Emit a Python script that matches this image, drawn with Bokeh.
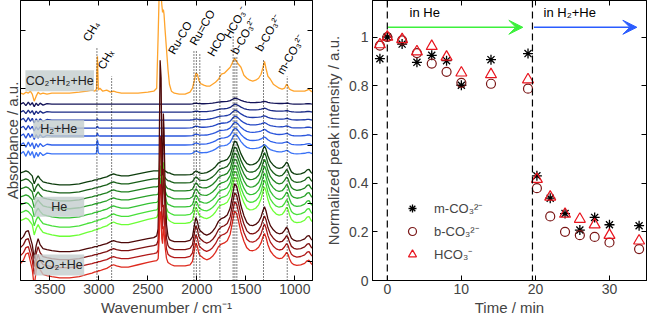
import math
from bokeh.plotting import figure
from bokeh.layouts import row
from bokeh.models import (Range1d, FixedTicker, LinearAxis, Legend, LegendItem,
                          Arrow, VeeHead, Span, Label, CustomJSTickFormatter)
from bokeh.core.properties import value
from bokeh.embed import file_html
from bokeh.resources import INLINE

FONT = "Liberation Sans"

# ------------------------------------------------------------------
# Right panel data: normalized peak intensities vs time
# ------------------------------------------------------------------
time_min = [-1, 0, 2, 4, 6, 8, 10, 14, 19, 20.2, 22, 24, 26, 28, 30, 34]
m_co3 = [0.911, 1.0, 0.971, 0.896, 0.925, 0.903, 0.802, 0.907, 0.932,
         0.430, 0.338, 0.275, 0.207, 0.259, 0.229, 0.225]
b_co3 = [0.965, 1.0, 0.986, 0.934, 0.891, 0.857, 0.812, 0.808, 0.788,
         0.379, 0.263, 0.200, 0.186, 0.179, 0.156, 0.129]
hco3 = [0.969, 1.0, 0.990, 0.940, 0.962, 0.918, 0.853, 0.846, 0.825,
        0.416, 0.343, 0.273, 0.252, 0.229, 0.186, 0.163]
legend_labels = ["m-CO\u2083\u00b2\u207b", "b-CO\u2083\u00b2\u207b", "HCO\u2083\u207b"]
switch_times = [0, 19.6]
phase_text = ["in He", "in H\u2082+He"]
phase_text_x = [3.0, 21.1]
phase_text_y = [1.10, 1.10]
phase_arrows = [(0.1, 18.3, "#3cf03c"), (19.8, 33.7, "#2a5cff")]
arrow_y = 1.04
time_ticks = [0, 10, 20, 30]
norm_ticks = [0, 0.2, 0.4, 0.6, 0.8, 1.0]

# ------------------------------------------------------------------
# Left panel data: DRIFT spectra (offset, a.u. in plot units)
# ------------------------------------------------------------------
wavenumber = [3800, 3770, 3745, 3720, 3700, 3680, 3660, 3640, 3620, 3600, 3570, 3530,
              3480, 3400, 3300, 3200, 3120, 3070, 3040, 3025, 3015, 3005, 2990, 2960,
              2920, 2880, 2850, 2820, 2770, 2700, 2600, 2500, 2440, 2410, 2395, 2385,
              2375, 2365, 2358, 2350, 2342, 2335, 2325, 2310, 2295, 2280, 2260, 2230,
              2180, 2120, 2070, 2045, 2025, 2010, 1995, 1980, 1965, 1950, 1930, 1900,
              1870, 1840, 1810, 1780, 1750, 1720, 1690, 1660, 1635, 1615, 1595, 1575,
              1550, 1520, 1490, 1460, 1430, 1400, 1370, 1345, 1325, 1310, 1295, 1275,
              1250, 1220, 1190, 1160, 1130, 1105, 1085, 1070, 1055, 1035, 1010, 980,
              940, 900, 875, 855, 835, 815, 800]

# CO2+H2+He spectrum (height above its own baseline)
orange_spectrum = {
    3800: 1, 3770: 0, 3745: 2, 3720: 1, 3700: 3, 3680: 0, 3660: -7, 3640: -2, 3620: 2,
    3600: 0, 3570: 1, 3530: 0, 3480: 1, 3400: 1, 3300: 1, 3200: 2, 3120: 3, 3070: 4,
    3040: 3, 3025: 5, 3015: 38, 3005: 4, 2990: 6, 2960: 3, 2920: 4, 2880: 2, 2850: 3,
    2820: 2, 2770: 1, 2700: 1, 2600: 1, 2500: 2, 2440: 3, 2410: 6, 2395: 60, 2385: 100,
    2375: 100, 2365: 100, 2358: 90, 2350: 82, 2342: 85, 2335: 80, 2325: 65, 2310: 45,
    2295: 25, 2280: 10, 2260: 3, 2230: 1, 2180: 0, 2120: 0, 2070: 2, 2045: 6, 2025: 14,
    2010: 21, 1995: 20, 1980: 14, 1965: 11, 1950: 10, 1930: 9, 1900: 8, 1870: 8,
    1840: 10, 1810: 12, 1780: 15, 1750: 20, 1720: 21, 1690: 24, 1660: 27, 1635: 32,
    1615: 36, 1595: 33, 1575: 30, 1550: 27, 1520: 19, 1490: 16, 1460: 14, 1430: 13,
    1400: 14, 1370: 16, 1345: 20, 1325: 27, 1310: 33, 1295: 26, 1275: 18, 1250: 15,
    1220: 10, 1190: 8, 1160: 6, 1130: 5, 1105: 6, 1085: 10, 1070: 8, 1055: 5, 1035: 4,
    1010: 3, 980: 3, 940: 3, 900: 3, 875: 4, 855: 5, 835: 3, 815: 2, 800: 2}

# hydroxyl / baseline shape of the He and CO2+He spectra
hydroxyl_shape = {
    3800: 0, 3770: 1, 3745: 2, 3720: 1, 3700: -1, 3680: -3, 3660: -11, 3640: -6,
    3620: -3, 3600: -6, 3570: -9, 3530: -10, 3480: -11, 3400: -12, 3300: -12,
    3200: -11, 3120: -9, 3070: -8, 3040: -7, 3025: -7, 3015: -7, 3005: -6, 2990: -6,
    2960: -5, 2920: -4, 2880: -2, 2850: -1, 2820: -2, 2770: -3, 2700: -3, 2600: -1,
    2500: 1, 2440: 2, 2410: 2, 2395: 2, 2385: 2, 2375: 2, 2365: 2, 2358: 2, 2350: 2,
    2342: 2, 2335: 2, 2325: 2, 2310: 1, 2295: 0, 2280: 0, 2260: -1}
hydroxyl_tail = -2
# gas-phase CO2 combination bands (CO2+He spectra)
co2_combination = {3770: 2, 3745: 6, 3720: 8, 3700: 3, 3680: -2, 3660: -8, 3640: 0,
                   3620: 4, 3600: 1}
# water-vapour wiggles of the H2+He spectra
vapour_wiggle = {3770: 1.5, 3745: -1.5, 3720: 2, 3700: -1, 3680: 1.5, 3660: -2.5,
                 3640: 1, 3620: -1.5, 3600: 1, 3570: -1, 3530: 0.5}
ch4_band = {3025: 0.1, 3015: 1.0, 3005: 0.1}
co2_gas_band = {2410: 0.01, 2395: 0.05, 2385: 0.45, 2375: 1.0, 2365: 0.9, 2358: 0.45,
                2350: 0.35, 2342: 0.7, 2335: 0.6, 2325: 0.3, 2310: 0.08, 2295: 0.02}
ruco_band = {2070: 0.05, 2045: 0.2, 2025: 0.7, 2010: 1.0, 1995: 0.85, 1980: 0.55,
             1965: 0.45, 1950: 0.4, 1930: 0.28, 1900: 0.15, 1870: 0.08, 1840: 0.04,
             1810: 0.02}
formate_band = {1930: 0.02, 1900: 0.05, 1870: 0.1, 1840: 0.16, 1810: 0.24, 1780: 0.35,
                1750: 0.4, 1720: 0.42, 1690: 0.46, 1660: 0.58, 1635: 0.82, 1615: 1.0,
                1595: 0.96, 1575: 0.82, 1550: 0.62, 1520: 0.45, 1490: 0.33, 1460: 0.26,
                1430: 0.23, 1400: 0.22, 1370: 0.2, 1345: 0.16, 1325: 0.13, 1310: 0.12,
                1295: 0.1, 1275: 0.08, 1250: 0.06, 1220: 0.05, 1190: 0.04, 1160: 0.03,
                1130: 0.02, 1105: 0.02, 1085: 0.01}
carbonate_band = {1460: 0.05, 1430: 0.1, 1400: 0.16, 1370: 0.3, 1345: 0.55, 1325: 0.85,
                  1310: 1.0, 1295: 0.9, 1275: 0.65, 1250: 0.45, 1220: 0.32, 1190: 0.24,
                  1160: 0.22, 1130: 0.26, 1105: 0.36, 1085: 0.5, 1070: 0.45, 1055: 0.28,
                  1035: 0.12, 1010: 0.05, 980: 0.02, 940: 0.04, 900: 0.1, 875: 0.2,
                  855: 0.22, 835: 0.1, 815: 0.03}

orange_offset = 187
orange_color = "#ffa42c"

# H2+He (top -> bottom)
blue_offset = [177, 169, 161, 153, 145, 136, 127]
blue_wiggle = [1, 1, 1.2, 1.2, 1.4, 1.5, 1.6]
blue_ch4 = [0, 0, 1, 2, 3, 5, 10]
blue_formate = [6, 8, 10, 12, 14, 17, 20]
blue_carbonate = [2, 3, 3, 4, 5, 6, 7]
blue_ruco = [1, 1, 1, 2, 2, 2, 3]
blue_colors = ["#141458", "#1a2a85", "#1f3aa8", "#2447c4", "#2a55dc", "#3062ec", "#3a72f6"]

# He (top -> bottom)
green_offset = [108, 100, 92, 84, 76, 68, 60]
green_hydroxyl = [1, 1, 1, 1, 1.1, 1.2, 1.3]
green_formate = [34, 36, 38, 40, 42, 44, 46]
green_carbonate = [25, 26, 27, 28, 29, 30, 31]
green_ruco = [4, 6, 8, 10, 12, 14, 16]
green_co2 = [0, 4, 8, 15, 25, 45, 80]
green_colors = ["#0d3d0d", "#175e17", "#1f801f", "#28a028", "#34c234", "#48e03a", "#6cff36"]

# CO2+He (top -> bottom)
red_offset = [41, 33, 25, 17]
red_hydroxyl = [1, 1, 1, 1.2]
red_combination = [1, 1, 1, 1.2]
red_formate = [58, 57, 56, 55]
red_carbonate = [28, 27, 27, 26]
red_ruco = [24, 24, 23, 23]
red_co2 = [178, 110, 70, 50]
red_colors = ["#4d0808", "#7d1010", "#b01818", "#de2a1e"]

band_lines_x = [3020, 2870, 2030, 2005, 1970, 1765, 1630, 1612, 1592, 1320, 1078]
band_lines_top = [233, 205, 231, 231, 228, 216, 245, 225, 225, 221, 205]
band_text = ["CH\u2084", "CH\u2093", "Ru-CO", "Ru=CO", "HCO", "HCO\u2083\u207b",
             "b-CO\u2083\u00b2\u207b", "b-CO\u2083\u00b2\u207b", "m-CO\u2083\u00b2\u207b"]
band_text_x = [3080, 2930, 2210, 1990, 1810, 1640, 1570, 1320, 1100]
band_text_y = [238, 210, 225, 234, 223, 241, 225, 228, 205]

box_text = ["CO\u2082+H\u2082+He", "H\u2082+He", "He", "CO\u2082+He"]
box_left = [3750, 3670, 3660, 3660]
box_right = [3050, 3150, 3150, 3150]
box_bottom = [190, 143, 64, 5]
box_top = [211, 161, 84, 26]

wn_ticks = [1000, 1500, 2000, 2500, 3000, 3500]
abs_ticks = [19, 77, 135, 193, 251]


def build(offset, parts):
    out = []
    for w in wavenumber:
        v = offset
        for amp, shape, default in parts:
            v += amp * shape.get(w, default)
        out.append(v)
    return out


def style_axis(ax, size="14px"):
    ax.major_label_text_font = FONT
    ax.major_label_text_font_size = size
    ax.axis_label_text_font = FONT
    ax.axis_label_text_font_size = "15px"
    ax.axis_label_text_font_style = "normal"
    ax.major_tick_in = 5
    ax.major_tick_out = 0
    ax.minor_tick_line_color = None
    ax.axis_line_color = "black"
    ax.major_tick_line_color = "black"
    ax.major_label_standoff = 3
    ax.axis_label_standoff = 2


def mirror_axis(ticks):
    ax = LinearAxis(ticker=FixedTicker(ticks=ticks))
    ax.major_label_text_font_size = "0px"
    ax.major_tick_in = 5
    ax.major_tick_out = 0
    ax.minor_tick_line_color = None
    ax.major_label_standoff = 0
    ax.axis_line_color = "black"
    return ax


H = 318

# ------------------------------- left figure -------------------------------
p1 = figure(width=318, height=H, output_backend="svg", toolbar_location=None,
            x_range=Range1d(3800, 820), y_range=Range1d(0, 281),
            min_border_left=10, min_border_right=6, min_border_top=0, min_border_bottom=0)
p1.grid.visible = False
p1.outline_line_color = "black"
p1.xaxis.ticker = FixedTicker(ticks=wn_ticks)
p1.yaxis.ticker = FixedTicker(ticks=abs_ticks)
p1.xaxis.axis_label = "Wavenumber / cm\u207b\u00b9"
p1.yaxis.axis_label = "Absorbance / a.u."
style_axis(p1.xaxis[0])
style_axis(p1.yaxis[0])
p1.yaxis.major_label_text_font_size = "0px"
p1.yaxis.major_label_standoff = 0
p1.yaxis.axis_label_standoff = 0
p1.add_layout(mirror_axis(wn_ticks), "above")
p1.add_layout(mirror_axis(abs_ticks), "right")

LW = 1.3
p1.line(wavenumber, build(orange_offset, [(1, orange_spectrum, 0)]),
        line_color=orange_color, line_width=LW)
for i in range(len(blue_offset)):
    y = build(blue_offset[i], [(blue_wiggle[i], vapour_wiggle, 0), (blue_ch4[i], ch4_band, 0),
                               (blue_formate[i], formate_band, 0),
                               (blue_carbonate[i], carbonate_band, 0),
                               (blue_ruco[i], ruco_band, 0)])
    p1.line(wavenumber, y, line_color=blue_colors[i], line_width=LW)
for i in range(len(green_offset)):
    y = build(green_offset[i], [(green_hydroxyl[i], hydroxyl_shape, hydroxyl_tail),
                                (green_formate[i], formate_band, 0),
                                (green_carbonate[i], carbonate_band, 0),
                                (green_ruco[i], ruco_band, 0),
                                (green_co2[i], co2_gas_band, 0)])
    p1.line(wavenumber, y, line_color=green_colors[i], line_width=LW)
for i in range(len(red_offset)):
    y = build(red_offset[i], [(red_hydroxyl[i], hydroxyl_shape, hydroxyl_tail),
                              (red_combination[i], co2_combination, 0),
                              (red_formate[i], formate_band, 0),
                              (red_carbonate[i], carbonate_band, 0),
                              (red_ruco[i], ruco_band, 0),
                              (red_co2[i], co2_gas_band, 0)])
    p1.line(wavenumber, y, line_color=red_colors[i], line_width=LW)

p1.segment(x0=band_lines_x, y0=[0] * len(band_lines_x), x1=band_lines_x, y1=band_lines_top,
           line_color="black", line_dash="1 2", line_width=1)
for tx, ty, tt in zip(band_text_x, band_text_y, band_text):
    p1.add_layout(Label(x=tx, y=ty, text=tt, angle=60, angle_units="deg",
                        text_font=FONT, text_font_size="11.5px", text_align="left",
                        text_baseline="bottom", text_color="black"))

p1.quad(left=box_left, right=box_right, bottom=box_bottom, top=box_top,
        fill_color="#c3cdcd", fill_alpha=0.8, line_color=None)
p1.text(x=[(a + b) / 2 for a, b in zip(box_left, box_right)],
        y=[(a + b) / 2 for a, b in zip(box_bottom, box_top)], text=box_text,
        text_font=value(FONT), text_font_size="12.5px", text_align="center",
        text_baseline="middle", text_color="#222222")

# ------------------------------- right figure ------------------------------
p2 = figure(width=330, height=H, output_backend="svg", toolbar_location=None,
            x_range=Range1d(-2, 35), y_range=Range1d(0, 1.15),
            min_border_left=54, min_border_right=2, min_border_top=0, min_border_bottom=0)
p2.grid.visible = False
p2.outline_line_color = "black"
p2.xaxis.ticker = FixedTicker(ticks=time_ticks)
p2.yaxis.ticker = FixedTicker(ticks=norm_ticks)
p2.yaxis.formatter = CustomJSTickFormatter(
    code="if (Math.abs(tick) < 1e-9) return '0'; if (Math.abs(tick-1) < 1e-9) return '1'; return tick.toFixed(1);")
p2.xaxis.axis_label = "Time / min"
p2.yaxis.axis_label = "Normalized peak intensity / a.u."
style_axis(p2.xaxis[0])
style_axis(p2.yaxis[0])
p2.yaxis.major_label_standoff = 4
p2.yaxis.axis_label_standoff = 4
p2.add_layout(mirror_axis(time_ticks), "above")
p2.add_layout(mirror_axis(norm_ticks), "right")

for t in switch_times:
    p2.add_layout(Span(location=t, dimension="height", line_color="black",
                       line_dash="7 4", line_width=1.2))
for x0, x1, col in phase_arrows:
    p2.add_layout(Arrow(end=VeeHead(size=14, fill_color=col, line_color=col),
                        x_start=x0, y_start=arrow_y, x_end=x1, y_end=arrow_y,
                        line_color=col, line_width=1.6))
p2.text(x=phase_text_x, y=phase_text_y, text=phase_text, text_font=value(FONT),
        text_font_size="13px", text_align="left", text_baseline="middle", text_color="black")

r_m = p2.scatter(time_min, m_co3, marker="asterisk", size=10, line_color="black", line_width=1.3)
r_b = p2.scatter(time_min, b_co3, marker="circle", size=9, line_color="#7a1616",
                 fill_color=None, line_width=1.2)
r_h = p2.scatter(time_min, hco3, marker="triangle", size=11, line_color="#e8141e",
                 fill_color=None, line_width=1.2)

legend = Legend(items=[LegendItem(label=legend_labels[0], renderers=[r_m]),
                       LegendItem(label=legend_labels[1], renderers=[r_b]),
                       LegendItem(label=legend_labels[2], renderers=[r_h])],
                location=(30, 16), background_fill_alpha=0, border_line_alpha=0,
                label_text_font=FONT, label_text_font_size="13px", glyph_width=20,
                glyph_height=20, label_standoff=12, spacing=3, padding=0, margin=0)
p2.add_layout(legend)

layout = row(p1, p2)
open("out.html", "w").write(file_html(layout, INLINE))
